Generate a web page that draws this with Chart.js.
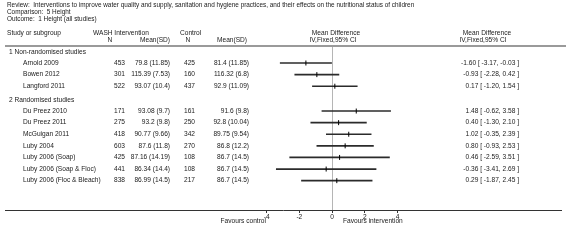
<!DOCTYPE html>
<html>
<head>
<meta charset="utf-8">
<script src="https://cdn.jsdelivr.net/npm/chart.js@4/dist/chart.umd.min.js"></script>
<style>
  html, body { margin: 0; padding: 0; background: #fff; }
  #wrap { width: 566px; height: 240px; position: relative; }
</style>
</head>
<body>
<div id="wrap"><canvas id="forest"></canvas></div>
<script>
// data
const titulo = [
    "Review:  Interventions to improve water quality and supply, sanitation and hygiene practices, and their effects on the nutritional status of children",
    "Comparison:  5 Height",
    "Outcome:  1 Height (all studies)"
];
const grupos = ["1 Non-randomised studies", "2 Randomised studies"];
const estudios = ["Arnold 2009", "Bowen 2012", "Langford 2011", "Du Preez 2010", "Du Preez 2011", "McGuigan 2011",
    "Luby 2004", "Luby 2006 (Soap)", "Luby 2006 (Soap & Floc)", "Luby 2006 (Floc & Bleach)"];
const grupoDe = [0, 0, 0, 1, 1, 1, 1, 1, 1, 1];
const intN = [453, 301, 522, 171, 275, 418, 603, 425, 441, 838];
const intMedia = [79.8, 115.39, 93.07, 93.08, 93.2, 90.77, 87.6, 87.16, 86.34, 86.99];
const intDE = [11.85, 7.53, 10.4, 9.7, 9.8, 9.66, 11.8, 14.19, 14.4, 14.5];
const ctlN = [425, 160, 437, 161, 250, 342, 270, 108, 108, 217];
const ctlMedia = [81.4, 116.32, 92.9, 91.6, 92.8, 89.75, 86.8, 86.7, 86.7, 86.7];
const ctlDE = [11.85, 6.8, 11.09, 9.8, 10.04, 9.54, 12.2, 14.5, 14.5, 14.5];
const difMedia = [-1.60, -0.93, 0.17, 1.48, 0.40, 1.02, 0.80, 0.46, -0.36, 0.29];
const icBajo = [-3.17, -2.28, -1.20, -0.62, -1.30, -0.35, -0.93, -2.59, -3.41, -1.87];
const icAlto = [-0.03, 0.42, 1.54, 3.58, 2.10, 2.39, 2.53, 3.51, 2.69, 2.45];
const ticksX = [-4, -2, 0, 2, 4];

// row layout (in row units)
const posGrupo = [];
const posEstudio = [];
let fila = 0.43;
let grupoActual = -1;
estudios.forEach((e, i) => {
    if (grupoDe[i] !== grupoActual) {
        if (grupoActual >= 0) fila += 1.19;
        grupoActual = grupoDe[i];
        posGrupo.push(fila);
        fila += 0.95;
    } else {
        fila += 1;
    }
    posEstudio.push(fila);
});

const familia = "'Liberation Sans', Arial, sans-serif";
const tinta = "#1a1a1a";

const textoTabla = {
    id: "textoTabla",
    afterDraw(chart) {
        const c = chart.ctx;
        const y = chart.scales.y;
        const area = chart.chartArea;
        c.save();
        c.fillStyle = tinta;
        c.textBaseline = "middle";

        const txt = (s, x, yy, al) => { c.textAlign = al || "left"; c.fillText(s, x, yy); };

        c.font = "6.4px " + familia;
        titulo.forEach((t, i) => txt(t, 7, 5 + i * 7));

        c.font = "6.6px " + familia;
        txt("Study or subgroup", 7, 33);
        txt("WASH Intervention", 93, 33);
        txt("Control", 180, 33);
        txt("N", 110, 40, "center");
        txt("Mean(SD)", 140, 40);
        txt("N", 188, 40, "center");
        txt("Mean(SD)", 217, 40);
        txt("Mean Difference", 336, 33, "center");
        txt("IV,Fixed,95% CI", 333, 40, "center");
        txt("Mean Difference", 487, 33, "center");
        txt("IV,Fixed,95% CI", 483, 40, "center");

        // header rule
        c.strokeStyle = "#9a9a9a";
        c.lineWidth = 2;
        c.beginPath();
        c.moveTo(5, area.top - 1);
        c.lineTo(chart.width, area.top - 1);
        c.stroke();

        grupos.forEach((g, i) => txt(g, 9, y.getPixelForValue(posGrupo[i])));

        estudios.forEach((e, i) => {
            const py = y.getPixelForValue(posEstudio[i]);
            txt(e, 23, py);
            txt(String(intN[i]), 125, py, "right");
            txt(intMedia[i] + " (" + intDE[i] + ")", 170, py, "right");
            txt(String(ctlN[i]), 195, py, "right");
            txt(ctlMedia[i] + " (" + ctlDE[i] + ")", 249, py, "right");
            txt(difMedia[i].toFixed(2) + " [ " + icBajo[i].toFixed(2) + ", " + icAlto[i].toFixed(2) + " ]", 519, py, "right");
        });

        txt("Favours control", 266, 221, "right");
        txt("Favours intervention", 343, 221);
        c.restore();
    }
};

document.addEventListener("DOMContentLoaded", () => {
    const ctx = document.getElementById("forest");

    new Chart(ctx, {
        type: "bar",
        data: {
            datasets: [{
                type: "bar",
                label: "IC 95%",
                data: estudios.map((e, i) => ({ x: [icBajo[i], icAlto[i]], y: posEstudio[i] })),
                backgroundColor: "#2b2b2b",
                borderWidth: 0,
                barThickness: 1,
                order: 2
            }, {
                type: "scatter",
                label: "Diferencia",
                data: estudios.map((e, i) => ({ x: difMedia[i], y: posEstudio[i] })),
                pointStyle: "line",
                rotation: 90,
                radius: 2.5,
                borderWidth: 1,
                borderColor: "#000",
                backgroundColor: "#000",
                order: 1
            }]
        },
        options: {
            indexAxis: "y",
            responsive: true,
            maintainAspectRatio: false,
            animation: false,
            layout: { padding: { top: 47, left: 0, right: 0, bottom: 0 } },
            plugins: {
                legend: { display: false },
                tooltip: { enabled: false }
            },
            scales: {
                x: {
                    type: "linear",
                    position: "bottom",
                    min: -20,
                    max: 14,
                    afterBuildTicks: (scale) => { scale.ticks = ticksX.map(v => ({ value: v })); },
                    afterFit: (scale) => { scale.height = 30; },
                    ticks: {
                        font: { family: familia, size: 6.6 },
                        color: tinta,
                        padding: 0,
                        maxRotation: 0,
                        autoSkip: false
                    },
                    grid: {
                        color: (c) => (c.tick && c.tick.value === 0 ? "#b5b5b5" : "rgba(0,0,0,0)"),
                        tickColor: "#333",
                        tickLength: 3,
                        drawOnChartArea: true
                    },
                    border: { display: true, color: "#333", width: 1 }
                },
                y: {
                    type: "linear",
                    reverse: true,
                    offset: false,
                    grid: { offset: false },
                    min: 0,
                    max: 14.05,
                    display: false
                }
            }
        },
        plugins: [textoTabla]
    });
});
</script>
</body>
</html>
